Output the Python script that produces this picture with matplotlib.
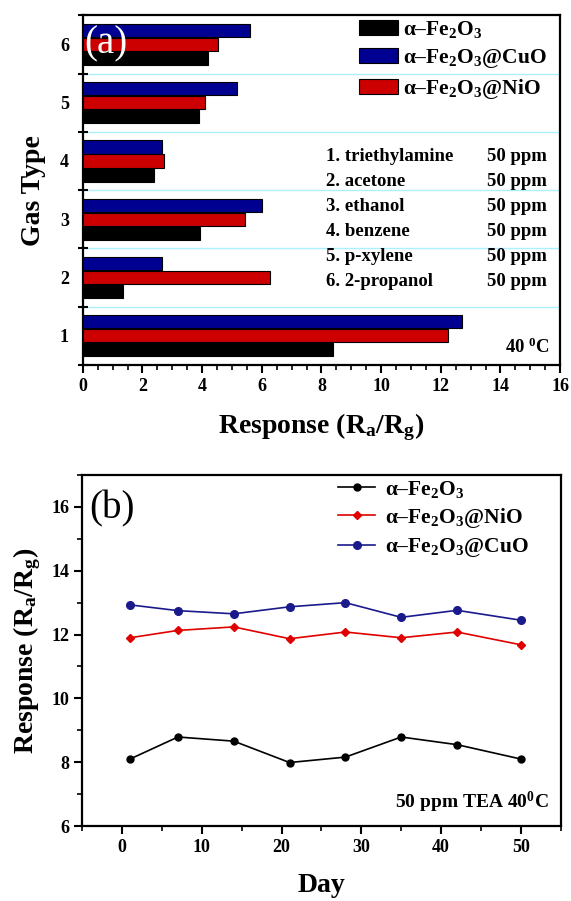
import numpy as np
import matplotlib
matplotlib.use("Agg")
import matplotlib.pyplot as plt
from matplotlib.ticker import MultipleLocator, FixedLocator

plt.rcParams['font.family'] = ['Liberation Serif', 'DejaVu Serif']
plt.rcParams['font.weight'] = 'bold'
plt.rcParams['axes.labelweight'] = 'bold'
plt.rcParams['mathtext.fontset'] = 'custom'
plt.rcParams['mathtext.rm'] = 'Liberation Serif:bold'
plt.rcParams['mathtext.it'] = 'Liberation Serif:bold'
plt.rcParams['mathtext.bf'] = 'Liberation Serif:bold'

# (a) response to different gases
gas = [1, 2, 3, 4, 5, 6]
gas_names = ['1. triethylamine', '2. acetone', '3. ethanol',
             '4. benzene', '5. p-xylene', '6. 2-propanol']
conc = ['50 ppm'] * 6
fe2o3 = [8.4, 1.36, 3.92, 2.38, 3.9, 4.2]
fe2o3_nio = [12.23, 6.29, 5.43, 2.73, 4.1, 4.53]
fe2o3_cuo = [12.72, 2.66, 6.0, 2.65, 5.18, 5.59]

# (b) stability over days
days = [1, 7, 14, 21, 28, 35, 42, 50]
stab_fe2o3 = [8.10, 8.79, 8.66, 7.99, 8.16, 8.79, 8.55, 8.10]
stab_nio = [11.90, 12.13, 12.24, 11.87, 12.08, 11.90, 12.08, 11.68]
stab_cuo = [12.93, 12.75, 12.65, 12.87, 13.00, 12.54, 12.76, 12.45]

lab_fe = 'α–Fe$_2$O$_3$'
lab_cuo = 'α–Fe$_2$O$_3$@CuO'
lab_nio = 'α–Fe$_2$O$_3$@NiO'

fig = plt.figure(figsize=(5.71, 9.01), dpi=100)

# ---- panel a ----
ax1 = fig.add_axes([0.145, 0.595, 0.836, 0.388])
g = np.array(gas)
h = 0.23
ax1.barh(g - 0.24, fe2o3, height=h, color='black', edgecolor='black', lw=0.8, label=lab_fe, zorder=3)
ax1.barh(g + 0.24, fe2o3_cuo, height=h, color='#000090', edgecolor='black', lw=0.8, label=lab_cuo, zorder=3)
ax1.barh(g, fe2o3_nio, height=h, color='#cc0000', edgecolor='black', lw=0.8, label=lab_nio, zorder=3)
for yy in [1.5, 2.5, 3.5, 4.5, 5.5]:
    ax1.axhline(yy, color='#aaf0ff', lw=1.0, zorder=1)
ax1.set_xlim(0, 16)
ax1.set_ylim(0.5, 6.5)
ax1.set_xticks(range(0, 17, 2))
ax1.xaxis.set_minor_locator(MultipleLocator(0.5))
ax1.set_yticks(gas)
ax1.yaxis.set_minor_locator(FixedLocator([0.5, 1.5, 2.5, 3.5, 4.5, 5.5, 6.5]))
ax1.tick_params(axis='y', which='major', length=0, pad=10, labelsize=13)
ax1.tick_params(axis='y', which='minor', direction='inout', length=7, width=1.5)
ax1.tick_params(axis='x', which='major', direction='out', length=6, width=1.5, labelsize=13)
ax1.tick_params(axis='x', which='minor', direction='out', length=3.5, width=1.2)
ax1.set_xlabel('Response (R$_\\mathrm{a}$/R$_\\mathrm{g}$)', fontsize=20, fontweight='bold', labelpad=12)
ax1.set_ylabel('Gas Type', fontsize=20, fontweight='bold', labelpad=10)
for s in ax1.spines.values():
    s.set_linewidth(1.6)
ax1.text(0.004, 0.917, '(a)', transform=ax1.transAxes, color='white', fontsize=28,
         fontweight='normal', va='center', ha='left', zorder=5)
leg1 = ax1.legend(loc='upper left', bbox_to_anchor=(0.579, 0.99), frameon=False, fontsize=15.5,
                  handlelength=1.8, handleheight=0.7, handletextpad=0.25, labelspacing=0.32,
                  borderpad=0, borderaxespad=0)
for i in range(len(gas_names)):
    y = 0.597 - i * 0.0714
    ax1.text(0.509, y, gas_names[i], transform=ax1.transAxes, fontsize=13.5, va='center')
    ax1.text(0.847, y, conc[i], transform=ax1.transAxes, fontsize=13.5, va='center')
ax1.text(0.977, 0.05, '40 $^{0}$C', transform=ax1.transAxes, fontsize=13.5, ha='right', va='center')

# ---- panel b ----
ax2 = fig.add_axes([0.144, 0.0832, 0.838, 0.3896])
ax2.plot(days, stab_fe2o3, '-o', color='black', lw=1.2, ms=5, label=lab_fe)
ax2.plot(days, stab_nio, '-D', color='#e00000', mfc='#e00000', mec='#e00000', lw=1.2, ms=4.5, label=lab_nio)
ax2.plot(days, stab_cuo, '-o', color='#1a1a8c', lw=1.2, ms=5.5, label=lab_cuo)
ax2.set_xlim(-5, 55)
ax2.set_ylim(6, 17)
ax2.set_xticks(range(0, 51, 10))
ax2.xaxis.set_minor_locator(MultipleLocator(5))
ax2.set_yticks(range(6, 17, 2))
ax2.yaxis.set_minor_locator(MultipleLocator(1))
ax2.tick_params(which='major', direction='out', length=6, width=1.5, labelsize=13)
ax2.tick_params(which='minor', direction='out', length=3.5, width=1.2)
ax2.set_xlabel('Day', fontsize=20, fontweight='bold', labelpad=12)
ax2.set_ylabel('Response (R$_\\mathrm{a}$/R$_\\mathrm{g}$)', fontsize=20, fontweight='bold', labelpad=6)
for s in ax2.spines.values():
    s.set_linewidth(1.6)
ax2.text(0.015, 0.903, '(b)', transform=ax2.transAxes, color='black', fontsize=28,
         fontweight='normal', va='center', ha='left')
ax2.legend(loc='upper left', bbox_to_anchor=(0.534, 0.99), frameon=False, fontsize=15.5,
           handlelength=1.75, handletextpad=0.45, labelspacing=0.3, borderpad=0, borderaxespad=0)
ax2.text(0.975, 0.066, '50 ppm TEA 40$^{0}$C', transform=ax2.transAxes, fontsize=14,
         ha='right', va='center')

fig.savefig('out.png', dpi=100)
